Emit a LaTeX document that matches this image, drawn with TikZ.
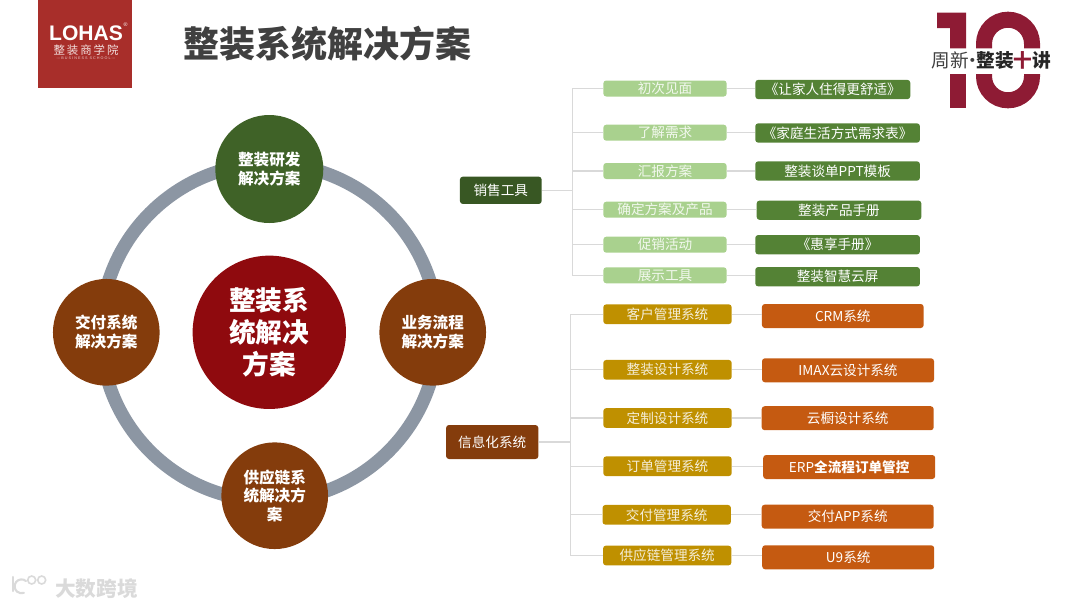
\documentclass[tikz,border=0pt]{standalone}
\usepackage{fontspec}
\usepackage{xcolor}
\setmainfont{Noto Sans CJK SC}
\newfontfamily\lohasfont{Liberation Sans}
\usetikzlibrary{positioning}
\definecolor{ringgray}{HTML}{8C96A3}
\definecolor{hubred}{HTML}{8F0A0E}
\definecolor{leafgreen}{HTML}{3F6227}
\definecolor{rustbrown}{HTML}{843C0C}
\definecolor{palegreen}{HTML}{A9D18E}
\definecolor{midgreen}{HTML}{548235}
\definecolor{deepgreen}{HTML}{385723}
\definecolor{goldbar}{HTML}{BF9000}
\definecolor{rustorange}{HTML}{C55A11}
\definecolor{linegray}{HTML}{D9D9D9}
\definecolor{logored}{HTML}{A82E2A}
\definecolor{tenred}{HTML}{8E1B34}
\definecolor{titlegray}{HTML}{404040}
\definecolor{markgray}{HTML}{DADADA}

\begin{document}
\begin{tikzpicture}[
  x=0.75pt, y=-0.75pt,
  every edge/.style={draw, linegray, line width=0.8pt},
  ball/.style={circle, minimum size=80pt, inner sep=0pt, align=center, text=white,
    font=\fontsize{11.7}{14}\selectfont\bfseries},
  barbox/.style={rounded corners=2.2pt, inner sep=0pt, align=center, text=white,
    font=\fontsize{10.2}{12}\selectfont},
  lightbox/.style={barbox, fill=palegreen, minimum width=92.5pt, minimum height=12pt, text=white!85!palegreen},
  greenbox/.style={barbox, fill=midgreen, minimum width=123.5pt, minimum height=14.5pt},
  goldbox/.style={barbox, fill=goldbar, minimum width=96.3pt, minimum height=14.8pt, text=white!85!goldbar},
  orangebox/.style={barbox, fill=rustorange, minimum width=129pt, minimum height=18pt}
]
\useasboundingbox (0,0) rectangle (1080,608);

\node[fill=logored, minimum width=70.7pt, minimum height=65.8pt, inner sep=0pt] (logo) at (85.2,43.9) {};
\node[text=white, font=\lohasfont\fontsize{15.8}{16}\selectfont\bfseries, inner sep=0pt] (lohas) at (86,33) {LOHAS};
\node[text=white, font=\lohasfont\fontsize{4}{4}\selectfont, inner sep=0pt] (reg) at (125.5,25) {®};
\node[text=white!85!logored, font=\fontsize{8.6}{9}\selectfont, inner sep=0pt] (school) at (86,50.5) {整\,装\,商\,学\,院};
\node[text=white!75!logored, font=\lohasfont\fontsize{2.8}{3}\selectfont, inner sep=0pt] (english) at (86,58.5) {--- B U S I N E S S \ S C H O O L ---};
\node[text=titlegray, font=\fontsize{27}{30}\selectfont\bfseries, inner sep=0pt] (title) at (327.5,43.5) {整装系统解决方案};

\fill[tenred] (937,12.7) -- (966,12.7) -- (966,48.3) -- (950,48.3) -- (950,28) -- (937,28) -- cycle;
\fill[tenred] (950,74) rectangle (966,108.3);
\draw[tenred, line width=12pt] (984,48.3) -- (984,43.7) arc[start angle=180, end angle=0, radius=18pt] -- (1032,48.3);
\draw[tenred, line width=12pt] (984,74) -- (984,76.3) arc[start angle=180, end angle=360, radius=18pt] -- (1032,74);
\node[inner sep=0pt, font=\fontsize{14}{15}\selectfont] (ten) at (991.5,60)
  {\textcolor{titlegray}{周新\kern-0.3em·\kern-0.3em}{\bfseries\textcolor{black!85}{整装}\textcolor{tenred}{十}\textcolor{black!85}{讲}}};

\draw[ringgray, line width=10pt] (269.3,332.2) circle (126.4pt);

\node[ball, fill=hubred, minimum size=115pt, font=\fontsize{20}{24}\selectfont\bfseries] (hub) at (269.3,332.3) {整装系\\统解决\\方案};
\node[ball, fill=leafgreen, minimum size=81pt] (rd) at (269.3,169) {整装研发\\解决方案};
\node[ball, fill=rustbrown] (flow) at (432.7,332.3) {业务流程\\解决方案};
\node[ball, fill=rustbrown] (supply) at (274.7,495.7) {供应链系\\统解决方\\案};
\node[ball, fill=rustbrown] (deliver) at (106.3,332.3) {交付系统\\解决方案};

\node[barbox, fill=deepgreen, minimum width=61.3pt, minimum height=20.5pt] (sale) at (500.8,190.3) {销售工具};
\node[lightbox] (a1) at (665,88.5) {初次见面};
\node[lightbox] (a2) at (665,132.7) {了解需求};
\node[lightbox] (a3) at (665,171) {汇报方案};
\node[lightbox] (a4) at (665,209.7) {确定方案及产品};
\node[lightbox] (a5) at (665,244.7) {促销活动};
\node[lightbox] (a6) at (665,275.3) {展示工具};
\node[greenbox, minimum width=116.2pt] (b1) at (832.8,89.5) {《让家人住得更舒适》};
\node[greenbox] (b2) at (837.6,133) {《家庭生活方式需求表》};
\node[greenbox] (b3) at (837.6,171) {整装谈单PPT模板};
\node[greenbox] (b4) at (839,210.2) {整装产品手册};
\node[greenbox] (b5) at (837.6,244.7) {《惠享手册》};
\node[greenbox] (b6) at (837.6,276.7) {整装智慧云屏};

\node[barbox, fill=rustbrown, minimum width=69.2pt, minimum height=25.5pt] (info) at (492.2,442) {信息化系统};
\node[goldbox] (c1) at (667.5,314.2) {客户管理系统};
\node[goldbox] (c2) at (667.5,369.8) {整装设计系统};
\node[goldbox] (c3) at (667.5,418) {定制设计系统};
\node[goldbox] (c4) at (667.5,466.2) {订单管理系统};
\node[goldbox] (c5) at (666.7,514.8) {交付管理系统};
\node[goldbox] (c6) at (667.2,555.5) {供应链管理系统};
\node[orangebox, minimum width=121.3pt] (d1) at (842.8,316) {CRM系统};
\node[orangebox] (d2) at (848,370.3) {IMAX云设计系统};
\node[orangebox] (d3) at (847.7,418.2) {云橱设计系统};
\node[orangebox] (d4) at (849.2,467) {ERP{\bfseries 全流程订单管控}};
\node[orangebox] (d5) at (847.7,516.7) {交付APP系统};
\node[orangebox] (d6) at (848.2,557.3) {U9系统};

\coordinate (salejoin) at (572.7,190.3);
\coordinate (infojoin) at (570.3,442);

\path
  (sale) edge (salejoin)
  (a1.west) edge[to path={-| (\tikztotarget)}] (salejoin)
  (a2.west) edge[to path={-| (\tikztotarget)}] (salejoin)
  (a3.west) edge[to path={-| (\tikztotarget)}] (salejoin)
  (a4.west) edge[to path={-| (\tikztotarget)}] (salejoin)
  (a5.west) edge[to path={-| (\tikztotarget)}] (salejoin)
  (a6.west) edge[to path={-| (\tikztotarget)}] (salejoin)
  (a1.east) edge (a1.east -| b1.west)
  (a2.east) edge (a2.east -| b2.west)
  (a3.east) edge (a3.east -| b3.west)
  (a4.east) edge (a4.east -| b4.west)
  (a5.east) edge (a5.east -| b5.west)
  (a6.east) edge (a6.east -| b6.west)
  (info) edge (infojoin)
  (c1.west) edge[to path={-| (\tikztotarget)}] (infojoin)
  (c2.west) edge[to path={-| (\tikztotarget)}] (infojoin)
  (c3.west) edge[to path={-| (\tikztotarget)}] (infojoin)
  (c4.west) edge[to path={-| (\tikztotarget)}] (infojoin)
  (c5.west) edge[to path={-| (\tikztotarget)}] (infojoin)
  (c6.west) edge[to path={-| (\tikztotarget)}] (infojoin)
  (c1.east) edge (c1.east -| d1.west)
  (c2.east) edge (c2.east -| d2.west)
  (c3.east) edge (c3.east -| d3.west)
  (c4.east) edge (c4.east -| d4.west)
  (c5.east) edge (c5.east -| d5.west)
  (c6.east) edge (c6.east -| d6.west);

\draw[markgray, line width=1.6pt, line cap=round] (12.7,577) -- (12.7,591);
\draw[markgray, line width=1.6pt, line cap=round] (26,581) arc[start angle=50, end angle=290, radius=5.2pt];
\draw[markgray, line width=1.2pt] (31.7,580) circle (3pt) (41.7,580) circle (3pt);
\node[text=markgray, font=\fontsize{15.5}{16}\selectfont\bfseries, inner sep=0pt] (mark) at (96.5,589) {大数跨境};
\end{tikzpicture}
\end{document}
